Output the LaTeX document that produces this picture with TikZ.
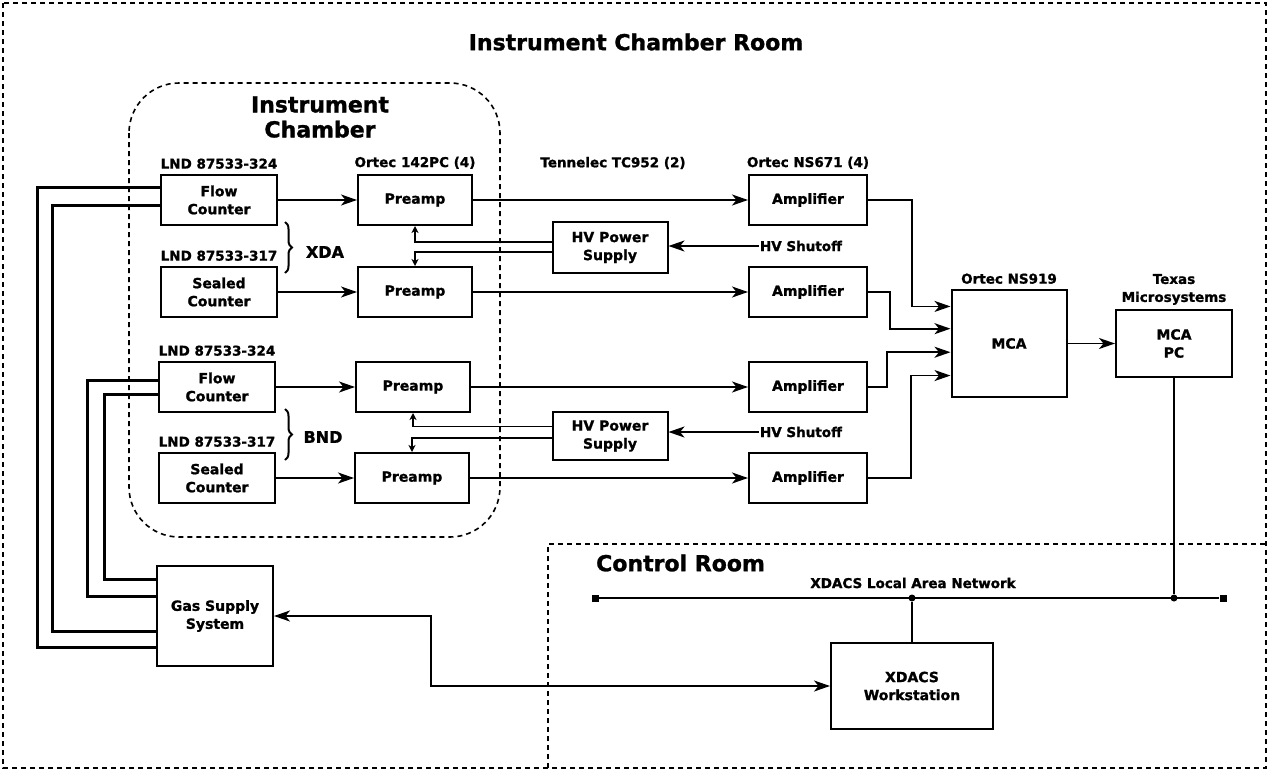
\documentclass[tikz,border=0pt]{standalone}
\usepackage{fontspec}
\setmainfont{DejaVu Sans}[BoldFeatures={FakeBold=1.3}]
\usetikzlibrary{positioning,arrows.meta,calc,decorations.pathreplacing}
\tikzset{
  blk/.style={draw,line width=2pt,minimum width=116pt,minimum height=50pt,
              inner sep=0pt,align=center,font=\bfseries\fontsize{14}{18}\selectfont},
  lbl/.style={inner sep=1pt,align=center,font=\bfseries\fontsize{13.5}{18}\selectfont},
  roomtitle/.style={inner sep=0pt,align=center,font=\bfseries\fontsize{22}{25}\selectfont},
  room/.style={line width=1.6pt,dash pattern=on 5pt off 4pt},
  arr/.style={line width=1.8pt,-{Stealth[length=16pt,width=11pt,inset=4.5pt]}},
  hvarr/.style={line width=1.8pt,-{Stealth[length=7pt,width=7pt,inset=2pt]}},
  wire/.style={line width=1.8pt},
  gasline/.style={line width=3pt},
  tapdot/.style={circle,fill,inner sep=0pt,minimum size=7pt},
  lanend/.style={rectangle,fill,inner sep=0pt,minimum size=7pt},
  brc/.style={line width=2pt,decorate,decoration={brace,amplitude=7pt}},
}

\begin{document}
\begin{tikzpicture}[x=1pt,y=-1pt]
  \useasboundingbox (0,0) rectangle (1269,771);
  % rooms
  \draw[room] (3,3) rectangle (1266,768);
  \draw[room] (548,768) |- (1266,544);
  \draw[room,rounded corners=50pt] (129,83) rectangle (500,537);
  \node[roomtitle] (icr) at (636,42) {Instrument Chamber Room};
  \node[roomtitle] (ich) at (320,117) {Instrument\\Chamber};
  \node[roomtitle,anchor=west] (crm) at (596,563) {Control Room};

  % counters and preamps
  \node[blk] (fc1) at (219,200) {Flow\\Counter};
  \node[blk] (sc1) at (219,292) {Sealed\\Counter};
  \node[blk] (fc2) at (217,387) {Flow\\Counter};
  \node[blk] (sc2) at (217,478) {Sealed\\Counter};
  \node[lbl,above=4pt of fc1] (lnd1) {LND 87533-324};
  \node[lbl,above=4pt of sc1] (lnd2) {LND 87533-317};
  \node[lbl,above=4pt of fc2] (lnd3) {LND 87533-324};
  \node[lbl,above=4pt of sc2] (lnd4) {LND 87533-317};
  \node[blk,minimum width=114pt] (pa1) at (415,200) {Preamp};
  \node[blk,minimum width=114pt] (pa2) at (415,292) {Preamp};
  \node[blk,minimum width=114pt] (pa3) at (413,387) {Preamp};
  \node[blk,minimum width=114pt] (pa4) at (412,478) {Preamp};
  \node[lbl,above=4pt of pa1] (ortpa) {Ortec 142PC (4)};
  \draw[brc] (285,222) -- (285,273);
  \draw[brc] (285,409) -- (285,460);
  \node[lbl,font=\bfseries\fontsize{16}{18}\selectfont] (xda) at (325,252) {XDA};
  \node[lbl,font=\bfseries\fontsize{16}{18}\selectfont] (bnd) at (323,437) {BND};

  % high voltage
  \node[blk,minimum width=115pt,minimum height=51pt] (hv1) at (610,247.5) {HV Power\\Supply};
  \node[blk,minimum width=115pt,minimum height=48pt] (hv2) at (610,436) {HV Power\\Supply};
  \node[lbl] (tenn) at (613,163) {Tennelec TC952 (2)};
  \node[lbl] (shut1) at (801,246) {HV Shutoff};
  \node[lbl] (shut2) at (801,432) {HV Shutoff};

  % amplifiers, MCA
  \node[blk,minimum width=118pt] (am1) at (808,200) {Amplifier};
  \node[blk,minimum width=118pt] (am2) at (808,292) {Amplifier};
  \node[blk,minimum width=118pt] (am3) at (808,387) {Amplifier};
  \node[blk,minimum width=118pt] (am4) at (808,478) {Amplifier};
  \node[lbl,above=4pt of am1] (ortam) {Ortec NS671 (4)};
  \node[blk,minimum width=115pt,minimum height=107pt] (mca) at (1009,343.5) {MCA};
  \node[lbl,above=4pt of mca] (ortmca) {Ortec NS919};
  \node[blk,minimum width=116pt,minimum height=67pt] (pc) at (1174,343.5) {MCA\\PC};
  \node[lbl,above=3pt of pc] (texas) {Texas\\Microsystems};

  % gas and control room
  \node[blk,minimum height=100pt] (gas) at (215,616) {Gas Supply\\System};
  \node[blk,minimum width=162pt,minimum height=86pt] (ws) at (912,686) {XDACS\\Workstation};
  \node[lbl] (lan) at (913,583) {XDACS Local Area Network};
  \node[lanend] (lanw) at (595,598) {};
  \node[lanend] (lane) at (1223,598) {};
  \node[tapdot] (tap1) at (ws.north |- lanw) {};
  \node[tapdot] (tap2) at (pc.south |- lanw) {};

  % signal chain
  \foreach \i in {1,2,3,4}{
    \draw[arr] (pa\i) -- (am\i);
  }
  \draw[arr] (fc1) -- (pa1);
  \draw[arr] (sc1) -- (pa2);
  \draw[arr] (fc2) -- (pa3);
  \draw[arr] (sc2) -- (pa4);
  \draw[arr] (am1.east) -- ++(44,0) |- ($(mca.north west)!.16!(mca.south west)$);
  \draw[arr] (am2.east) -- ++(22,0) |- ($(mca.north west)!.364!(mca.south west)$);
  \draw[arr] (am3.east) -- ++(19,0) |- ($(mca.north west)!.58!(mca.south west)$);
  \draw[arr] (am4.east) -- ++(43,0) |- ($(mca.north west)!.794!(mca.south west)$);
  \draw[arr] (mca) -- (pc);

  % bias
  \draw[hvarr] ($(hv1.north west)!.39!(hv1.south west)$) -| (pa1.south);
  \draw[hvarr] ($(hv1.north west)!.59!(hv1.south west)$) -| (pa2.north);
  \draw[hvarr] ($(hv2.north west)!.31!(hv2.south west)$) -| (pa3.south);
  \draw[hvarr] ($(hv2.north west)!.54!(hv2.south west)$) -| (pa4.north);
  \draw[arr] (shut1.west) -- (shut1.west -| hv1.east);
  \draw[arr] (shut2.west) -- (shut2.west -| hv2.east);

  % gas lines
  \draw[gasline] ($(fc1.north west)!.25!(fc1.south west)$) -- ++(-123,0) |- ($(gas.north west)!.81!(gas.south west)$);
  \draw[gasline] ($(fc1.north west)!.61!(fc1.south west)$) -- ++(-108,0) |- ($(gas.north west)!.65!(gas.south west)$);
  \draw[gasline] ($(fc2.north west)!.37!(fc2.south west)$) -- ++(-71,0) |- ($(gas.north west)!.31!(gas.south west)$);
  \draw[gasline] ($(fc2.north west)!.65!(fc2.south west)$) -- ++(-54,0) |- ($(gas.north west)!.14!(gas.south west)$);

  % network
  \draw[wire] (lanw) -- (lane);
  \draw[wire] (ws) -- (tap1);
  \draw[wire] (pc) -- (tap2);
  \draw[arr,{Stealth[length=16pt,width=11pt,inset=4.5pt]}-{Stealth[length=16pt,width=11pt,inset=4.5pt]}]
    (gas.east) -- ++(157,0) |- (ws.west);
\end{tikzpicture}
\end{document}
